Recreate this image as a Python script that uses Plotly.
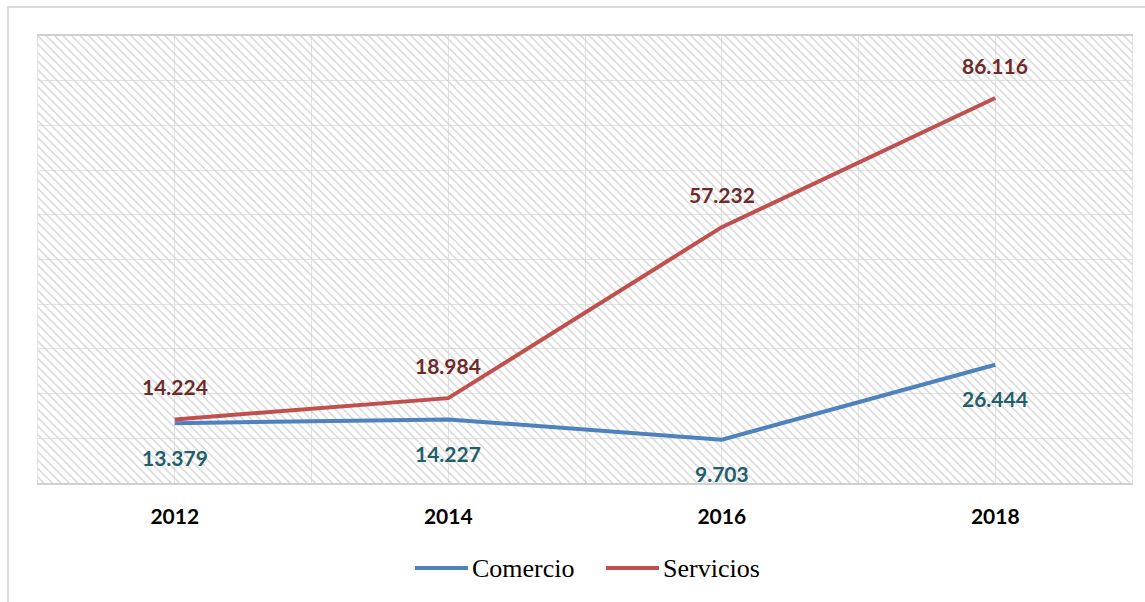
import plotly.graph_objects as go

# Data
years = ["2012", "2014", "2016", "2018"]
comercio = [13379, 14227, 9703, 26444]
servicios = [14224, 18984, 57232, 86116]

W, H = 1145, 602
ML, MR, MT, MB = 38, 13, 36, 119
PW, PH = W - ML - MR, H - MT - MB

BLUE = "#4F81BD"
RED = "#C0504D"
BLUE_LBL = "#235E6B"
RED_LBL = "#6E2A2A"
LBL_FONT = "Lato"

xpos = list(range(len(years)))


def fmt(v):
    return f"{v:,}".replace(",", ".")


def px_x(px):
    return (px - ML) / PW


def px_y(py):
    return (H - MB - py) / PH


fig = go.Figure()

# hatched plot background
fig.add_trace(go.Bar(
    x=[(len(years) - 1) / 2], y=[100000], width=[len(years)],
    marker=dict(color="rgba(0,0,0,0)", line=dict(width=0),
                pattern=dict(shape="\\", size=6, solidity=0.22,
                             fgcolor="#d2d2d2", fillmode="replace")),
    hoverinfo="skip", showlegend=False,
))

fig.add_trace(go.Scatter(x=xpos, y=comercio, name="Comercio", mode="lines",
                         line=dict(color=BLUE, width=4)))
fig.add_trace(go.Scatter(x=xpos, y=servicios, name="Servicios", mode="lines",
                         line=dict(color=RED, width=4)))

annotations = []
for xi, v in zip(xpos, servicios):
    annotations.append(dict(x=xi, y=v, text=fmt(v), showarrow=False, yshift=33,
                            font=dict(family=LBL_FONT, size=21, color=RED_LBL, weight="bold")))
for xi, v in zip(xpos, comercio):
    annotations.append(dict(x=xi, y=v, text=fmt(v), showarrow=False, yshift=-34,
                            font=dict(family=LBL_FONT, size=21, color=BLUE_LBL, weight="bold")))

# legend
legend_items = [("Comercio", BLUE, 415), ("Servicios", RED, 606)]
shapes = []
for name, col, x0 in legend_items:
    shapes.append(dict(type="line", xref="paper", yref="paper",
                       x0=px_x(x0), x1=px_x(x0 + 53), y0=px_y(568), y1=px_y(568),
                       line=dict(color=col, width=4)))
    annotations.append(dict(xref="paper", yref="paper", x=px_x(x0 + 55), y=px_y(568),
                            xanchor="left", yanchor="middle", showarrow=False, text=name,
                            font=dict(family="Liberation Serif", size=26, color="#000000")))

# outer chart frame
shapes.append(dict(type="rect", xref="paper", yref="paper",
                   x0=px_x(8), x1=px_x(1160), y0=px_y(7), y1=px_y(620),
                   line=dict(color="#d9d9d9", width=2), fillcolor="rgba(0,0,0,0)",
                   layer="below"))

fig.update_layout(
    width=W, height=H,
    margin=dict(l=ML, r=MR, t=MT, b=MB, pad=0),
    paper_bgcolor="white", plot_bgcolor="white",
    showlegend=False,
    barmode="overlay",
    annotations=annotations,
    shapes=shapes,
    xaxis=dict(
        range=[-0.5, len(years) - 0.5],
        tickvals=xpos, ticktext=years,
        showgrid=True, gridcolor="#e3e3e3", gridwidth=1,
        minor=dict(tickvals=[i + 0.5 for i in range(-1, len(years))],
                   showgrid=True, gridcolor="#e3e3e3", gridwidth=1),
        showline=True, linecolor="#d0d0d0", linewidth=2, mirror=True,
        zeroline=False, ticks="", ticklabelstandoff=14,
        tickfont=dict(family=LBL_FONT, size=21, color="#000000", weight="bold"),
        fixedrange=True,
    ),
    yaxis=dict(
        range=[0, 100000], dtick=10000,
        showgrid=True, gridcolor="#e3e3e3", gridwidth=1,
        showticklabels=False, ticks="", zeroline=False,
        showline=True, linecolor="#e3e3e3", linewidth=1, mirror=True,
        fixedrange=True,
    ),
)

fig.write_html("out.html")
